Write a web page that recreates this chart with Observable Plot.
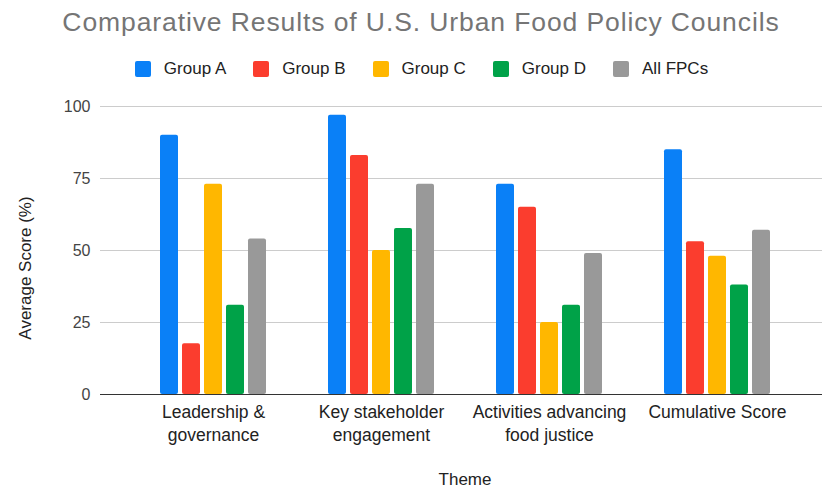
<!DOCTYPE html>
<html>
<head>
<meta charset="utf-8">
<script src="https://cdn.jsdelivr.net/npm/d3@7"></script>
<script src="https://cdn.jsdelivr.net/npm/@observablehq/plot@0.6"></script>
<style>
  html, body { margin: 0; padding: 0; background: #fff; }
  body { width: 822px; height: 488px; position: relative; overflow: hidden; font-family: "Liberation Sans", Arial, sans-serif; }
  #title { position: absolute; left: 0; width: 842px; top: 7px; text-align: center; font-size: 26.5px; letter-spacing: 0.9px; color: #757575; white-space: nowrap; }
  #legend { position: absolute; left: 0; width: 843px; top: 59px; display: flex; justify-content: center; font-size: 17px; color: #222; }
  .item { display: flex; align-items: center; margin: 0 13.5px; }
  .sw { width: 16px; height: 16px; border-radius: 2px; margin-right: 13px; }
  #chart { position: absolute; left: 0; top: 90px; }
  #ylabel { position: absolute; left: 26px; top: 268px; transform: translate(-50%, -50%) rotate(-90deg); font-size: 17px; color: #222; white-space: nowrap; }
  #xlabel { position: absolute; left: 465px; top: 480px; transform: translate(-50%, -50%); font-size: 17px; color: #222; }
</style>
</head>
<body>
<div id="title">Comparative Results of U.S. Urban Food Policy Councils</div>
<div id="legend"></div>
<div id="chart"></div>
<div id="ylabel">Average Score (%)</div>
<div id="xlabel">Theme</div>
<script>
const themes = ["Leadership & governance", "Key stakeholder engagement", "Activities advancing food justice", "Cumulative Score"];
const themeLabels = ["Leadership &\ngovernance", "Key stakeholder\nengagement", "Activities advancing\nfood justice", "Cumulative Score"];
const groups = ["Group A", "Group B", "Group C", "Group D", "All FPCs"];
const colors = ["#0a80f7", "#fb3d2e", "#ffb700", "#00a248", "#999999"];
const groupA = [90, 97, 73, 85];
const groupB = [17.6, 83, 65, 53];
const groupC = [73, 50, 25, 48];
const groupD = [31, 57.6, 31, 38];
const allFPCs = [54, 73, 49, 57];
const yTicks = [0, 25, 50, 75, 100];

const series = [groupA, groupB, groupC, groupD, allFPCs];
const data = [];
themes.forEach((t, i) => groups.forEach((g, j) => data.push({theme: t, group: g, value: series[j][i]})));
const labelMap = new Map(themes.map((t, i) => [t, themeLabels[i]]));

// legend
const legend = document.getElementById("legend");
groups.forEach((g, i) => {
  const it = document.createElement("div");
  it.className = "item";
  const sw = document.createElement("div");
  sw.className = "sw";
  sw.style.background = colors[i];
  const tx = document.createElement("span");
  tx.textContent = g;
  it.appendChild(sw); it.appendChild(tx);
  legend.appendChild(it);
});

const chart = Plot.plot({
  width: 822,
  height: 364,
  marginTop: 16,
  marginBottom: 60,
  marginLeft: 129,
  marginRight: 21,
  style: {fontFamily: "Liberation Sans, Arial, sans-serif", background: "#fff"},
  fx: {domain: themes, padding: 0},
  x: {domain: groups, paddingInner: 0.17, paddingOuter: 1.4, axis: null},
  y: {domain: [0, 100]},
  color: {domain: groups, range: colors},
  marks: [
    Plot.ruleY(yTicks, {stroke: "#cccccc", strokeWidth: 1, insetLeft: -29, insetRight: -21}),
    Plot.barY(data, {fx: "theme", x: "group", y: "value", fill: "group", rx: 2}),
    Plot.ruleY([0], {stroke: "#333333", strokeWidth: 1.2, insetLeft: -29, insetRight: -21}),
    Plot.axisY({ticks: yTicks, tickSize: 0, tickPadding: 39, fontSize: 16, fill: "#444", label: null}),
    Plot.axisFx({anchor: "bottom", tickSize: 0, tickPadding: 8, fontSize: 17.5, lineHeight: 1.27, fill: "#222", label: null, tickFormat: d => labelMap.get(d)})
  ]
});
document.getElementById("chart").appendChild(chart);
</script>
</body>
</html>
